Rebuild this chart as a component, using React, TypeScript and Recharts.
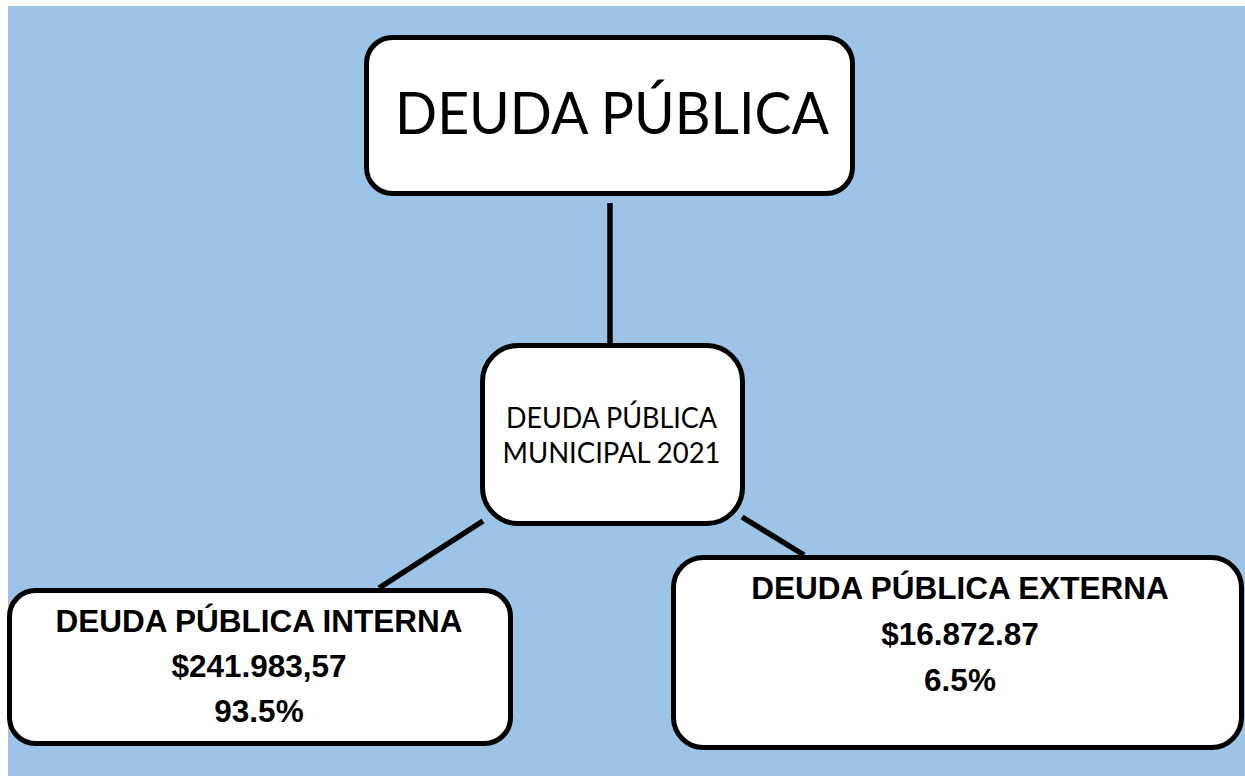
import React from 'react';
import { ScatterChart, Scatter, XAxis, YAxis, ReferenceArea, ReferenceLine } from 'recharts';

// ---- data ----
const nodeTitles: string[][] = [
  ['DEUDA PÚBLICA'],
  ['DEUDA PÚBLICA', 'MUNICIPAL 2021'],
  ['DEUDA PÚBLICA INTERNA'],
  ['DEUDA PÚBLICA EXTERNA'],
];
const nodeAmounts: string[] = ['', '', '$241.983,57', '$16.872.87'];
const nodeShares: string[] = ['', '', '93.5%', '6.5%'];

// ---- layout (pixel space of the canvas) ----
const W = 1245;
const H = 776;
const nodeLayout = [
  { cx: 609.5, cy: 115.5, w: 486, h: 156, r: 26, kind: 'big', dx: 2.5, offsets: [18.5], lens: [434] },
  { cx: 612.5, cy: 434.5, w: 260, h: 178, r: 36, kind: 'mid', dx: -1, offsets: [-6.5, 28.5], lens: [211, 218] },
  { cx: 260, cy: 667, w: 501, h: 153, r: 26, kind: 'bold', dx: -1, offsets: [-35, 10, 55], lens: [] },
  { cx: 957.5, cy: 652.5, w: 568, h: 190, r: 30, kind: 'bold', dx: 2.5, offsets: [-54, -8, 38], lens: [] },
];
const edgeLayout = [
  [{ x: 610, y: 203 }, { x: 610, y: 346 }],
  [{ x: 483, y: 521 }, { x: 379, y: 588 }],
  [{ x: 742, y: 517 }, { x: 804, y: 555 }],
];

const nodes = nodeLayout.map((l, i) => ({
  ...l,
  px: l.cx,
  py: l.cy,
  lines: [...nodeTitles[i], nodeAmounts[i], nodeShares[i]].filter((s) => s !== ''),
}));

const NodeShape = (props: any) => {
  const { cx, cy, payload } = props;
  const p = payload;
  return (
    <g>
      <rect
        x={cx - p.w / 2}
        y={cy - p.h / 2}
        width={p.w}
        height={p.h}
        rx={p.r}
        ry={p.r}
        fill="#ffffff"
        stroke="#000000"
        strokeWidth={5}
      />
      {p.lines.map((ln: string, i: number) => {
        const common: any = {
          x: cx + p.dx,
          y: cy + p.offsets[i],
          textAnchor: 'middle',
          fill: '#000000',
        };
        if (p.kind === 'bold') {
          return (
            <text key={i} {...common} fontFamily="'Liberation Sans', Arial, sans-serif" fontWeight="bold" fontSize={31.5}>
              {ln}
            </text>
          );
        }
        return (
          <text
            key={i}
            {...common}
            fontFamily="Lato, 'Open Sans', sans-serif"
            fontSize={p.kind === 'big' ? 59 : 28.5}
            textLength={p.lens[i]}
            lengthAdjust="spacingAndGlyphs"
          >
            {ln}
          </text>
        );
      })}
    </g>
  );
};

export default function App() {
  return (
    <div style={{ position: 'absolute', left: 0, top: 0, width: W, height: H, background: '#ffffff' }}>
      <ScatterChart width={W} height={H} margin={{ top: 0, right: 0, bottom: 0, left: 0 }}>
        <XAxis type="number" dataKey="px" domain={[0, W]} hide allowDataOverflow />
        <YAxis type="number" dataKey="py" domain={[0, H]} reversed hide allowDataOverflow />
        <ReferenceArea x1={8} x2={W} y1={6} y2={H} fill="#9DC3E6" fillOpacity={1} stroke="none" ifOverflow="visible" />
        {edgeLayout.map((seg, i) => (
          <ReferenceLine key={i} segment={seg} stroke="#000000" strokeWidth={5.5} ifOverflow="visible" />
        ))}
        <Scatter data={nodes} shape={NodeShape} isAnimationActive={false} />
      </ScatterChart>
    </div>
  );
}
